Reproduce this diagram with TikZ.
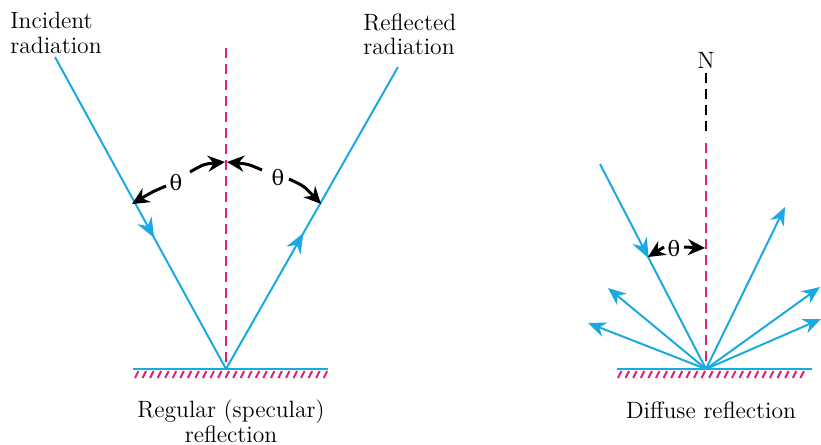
\documentclass[tikz,border=0pt]{standalone}
\usepackage{fontspec}
\newfontfamily\thetafont{DejaVu Serif}
\usetikzlibrary{arrows.meta,decorations.markings}
\definecolor{raycol}{RGB}{27,169,225}
\definecolor{magcol}{RGB}{221,32,122}
\begin{document}
\begin{tikzpicture}[x=0.5pt,y=-0.5pt,
  lbl/.style={font=\fontsize{11.8}{12.4}\selectfont,inner sep=0pt},
  thlbl/.style={font=\thetafont\fontsize{10.5}{12}\selectfont,inner sep=0pt},
  rayline/.style={draw=raycol,line width=1pt},
  surf/.style={draw=raycol,line width=1.1pt},
  hatch/.style={draw=magcol,line width=1pt},
  normalline/.style={draw=magcol,line width=1.1pt,dash pattern=on 5pt off 3pt},
  blacknormal/.style={draw=black,line width=1.1pt,dash pattern=on 5pt off 3pt},
  midarrow/.style={postaction={decorate},decoration={markings,mark=at position #1 with {\arrow{Stealth[length=10pt,width=8pt]}}}},
  endarrow/.style={-{Stealth[length=9pt,width=7.5pt]}},
  angarrow/.style={draw=black,line width=1.5pt,-{Stealth[length=8.5pt,width=8pt]}}
]
\useasboundingbox (0,0) rectangle (821,445);

% ---------- Regular reflection ----------
\coordinate (O1) at (226,369);
\coordinate (I1) at (55,57);
\coordinate (R1) at (398,67);
\coordinate (N1top) at (226,48);
\coordinate (S1a) at (133,369);
\coordinate (S1b) at (328,369);

\draw[normalline] (N1top) -- (O1);
\draw[rayline,midarrow=0.58,color=raycol] (I1) -- (O1);
\draw[rayline,midarrow=0.45,color=raycol] (O1) -- (R1);
\draw[surf] (S1a) -- (S1b);
\foreach \i in {0,...,25} {
  \draw[hatch] (135+7.55*\i,378) -- (138.5+7.55*\i,371);
}

% angle arrows
\coordinate (A1) at (190,172);
\coordinate (A1h) at (225,162);
\coordinate (A2) at (166,186);
\coordinate (A2h) at (132,204);
\coordinate (A3) at (262,170);
\coordinate (A3h) at (227,162);
\coordinate (A4) at (289,179);
\coordinate (A4h) at (321,204);
\draw[angarrow] (A1) .. controls (204,164) .. (A1h);
\draw[angarrow] (A2) .. controls (152,192) .. (A2h);
\draw[angarrow] (A3) .. controls (248,164) .. (A3h);
\draw[angarrow] (A4) .. controls (304,186) .. (A4h);
\node[thlbl] (t1) at (176,183) {θ};
\node[thlbl] (t2) at (278,178) {θ};

\node[lbl,anchor=north west,align=left] (inc) at (10,12) {Incident\\radiation};
\node[lbl,anchor=north west,align=left] (refl) at (363,13) {Reflected\\radiation};
\node[lbl,align=center] (cap1) at (231,421) {Regular (specular)\\reflection};

% ---------- Diffuse reflection ----------
\coordinate (O2) at (706,369);
\coordinate (I2) at (600,164);
\coordinate (S2a) at (617,369);
\coordinate (S2b) at (812,369);
\coordinate (N2a) at (706,73);
\coordinate (N2b) at (706,137);
\coordinate (N2c) at (706,143);

\draw[blacknormal] (N2a) -- (N2b);
\draw[normalline] (N2c) -- (O2);
\node[lbl] (N) at (706,60) {N};

\draw[rayline,midarrow=0.46,color=raycol] (I2) -- (O2);
\coordinate (D1) at (785,207);
\coordinate (D2) at (820,287);
\coordinate (D3) at (821,319);
\coordinate (D4) at (608,288);
\coordinate (D5) at (588,323);
\foreach \d in {D1,D2,D3,D4,D5} {
  \draw[rayline,endarrow,color=raycol] (O2) -- (\d);
}
\draw[surf] (S2a) -- (S2b);
\foreach \i in {0,...,24} {
  \draw[hatch] (618+7.6*\i,378) -- (621.5+7.6*\i,371);
}

\coordinate (B1) at (664,247);
\coordinate (B1h) at (648,257);
\coordinate (B2) at (684,247);
\coordinate (B2h) at (705,248);
\draw[angarrow] (B1) -- (B1h);
\draw[angarrow] (B2) -- (B2h);
\node[thlbl] (t3) at (674,249) {θ};

\node[lbl] (cap2) at (711,410) {Diffuse reflection};
\end{tikzpicture}
\end{document}
